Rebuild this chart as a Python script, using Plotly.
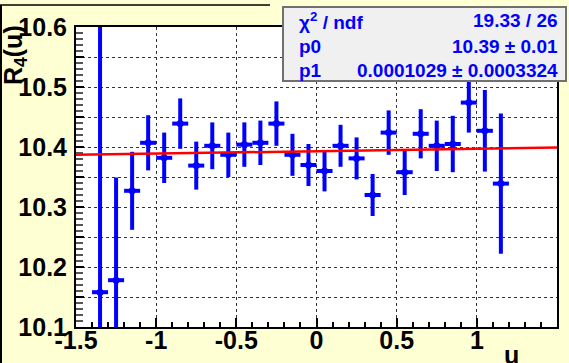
import plotly.graph_objects as go

# ---- data ----
u_vals = [-1.35, -1.25, -1.15, -1.05, -0.95, -0.85, -0.75, -0.65, -0.55, -0.45,
          -0.35, -0.25, -0.15, -0.05, 0.05, 0.15, 0.25, 0.35, 0.45, 0.55,
          0.65, 0.75, 0.85, 0.95, 1.05, 1.15]
r4_vals = [10.158, 10.178, 10.327, 10.407, 10.382, 10.439, 10.369, 10.402, 10.387, 10.404,
           10.407, 10.439, 10.387, 10.370, 10.360, 10.402, 10.381, 10.320, 10.424, 10.358,
           10.422, 10.402, 10.405, 10.474, 10.427, 10.339]
r4_errs = [0.50, 0.171, 0.065, 0.046, 0.042, 0.042, 0.040, 0.039, 0.037, 0.037,
           0.037, 0.037, 0.035, 0.035, 0.034, 0.035, 0.035, 0.035, 0.037, 0.038,
           0.041, 0.042, 0.047, 0.050, 0.068, 0.117]
u_halfwidth = [0.05] * len(u_vals)

fit_u = [-1.5, 1.5]
fit_r4 = [10.387, 10.399]

x_tickvals = [-1.5, -1.0, -0.5, 0.0, 0.5, 1.0, 1.5]
x_ticktext = ["-1.5", "-1", "-0.5", "0", "0.5", "1", "1.5"]
y_tickvals = [10.1, 10.15, 10.2, 10.25, 10.3, 10.35, 10.4, 10.45, 10.5, 10.55, 10.6]
y_ticktext = ["10.1", "", "10.2", "", "10.3", "", "10.4", "", "10.5", "", "10.6"]

stats_labels = ["χ<sup>2</sup> / ndf", "p0", "p1"]
stats_values = ["19.33 / 26", "10.39 ± 0.01", "0.0001029 ± 0.0003324"]

# ---- geometry (pixels) ----
W, H = 569, 363
L, R, T, B = 76, 12, 27, 36
PW, PH = W - L - R, H - T - B


def px(x):
    return (x - L) / PW


def py(y):
    return (H - B - y) / PH


BLUE = "#0000ff"
FONT = "Liberation Sans"
bg = "#ffffd4"

fig = go.Figure()

fig.add_trace(go.Scatter(
    x=u_vals, y=r4_vals, mode="markers",
    marker=dict(color=BLUE, size=7),
    error_y=dict(type="data", array=r4_errs, color=BLUE, thickness=4, width=0),
    error_x=dict(type="data", array=u_halfwidth, color=BLUE, thickness=4, width=0),
    showlegend=False, cliponaxis=True,
))

fig.add_trace(go.Scatter(
    x=fit_u, y=fit_r4, mode="lines",
    line=dict(color="#ff0000", width=2.5),
    showlegend=False,
))

fig.update_layout(
    width=W, height=H,
    margin=dict(l=L, r=R, t=T, b=B, pad=0, autoexpand=False),
    paper_bgcolor=bg, plot_bgcolor="white",
    font=dict(family=FONT, color="black"),
    xaxis=dict(
        range=[-1.5, 1.5], tickmode="array", tickvals=x_tickvals, ticktext=x_ticktext,
        ticks="inside", ticklen=9, tickwidth=1.5, tickcolor="black",
        showline=True, linecolor="black", linewidth=2, mirror=True,
        showgrid=True, gridcolor="#333333", griddash="dot", gridwidth=1,
        zeroline=False, automargin=False, ticklabelstandoff=-10,
        tickfont=dict(family=FONT, size=25, weight="bold", color="black"),
        minor=dict(dtick=0.1, tick0=-1.5, ticks="inside", ticklen=5, tickcolor="black", showgrid=False),
    ),
    yaxis=dict(
        range=[10.1, 10.6], tickmode="array", tickvals=y_tickvals, ticktext=y_ticktext,
        ticks="inside", ticklen=8, tickwidth=1.5, tickcolor="black",
        showline=True, linecolor="black", linewidth=2, mirror=True,
        showgrid=True, gridcolor="#333333", griddash="dot", gridwidth=1,
        zeroline=False, ticklabelstandoff=2, automargin=False,
        tickfont=dict(family=FONT, size=25, weight="bold", color="black"),
        minor=dict(dtick=0.01, tick0=10.1, ticks="inside", ticklen=7, tickcolor="#555555", showgrid=False),
    ),
)

# canvas border lines
fig.add_shape(type="line", xref="paper", yref="paper", x0=px(1), x1=px(1), y0=py(5), y1=py(H),
              line=dict(color="black", width=2))
fig.add_shape(type="line", xref="paper", yref="paper", x0=px(0), x1=px(270), y0=py(5), y1=py(5),
              line=dict(color="black", width=1.5))

# axis titles
fig.add_annotation(text="R<sub>4</sub>(u)", xref="paper", yref="paper", x=px(15), y=py(55),
                   textangle=-90, showarrow=False, xanchor="center", yanchor="middle",
                   font=dict(family=FONT, size=25, weight="bold", color="black"))
fig.add_annotation(text="u", xref="paper", yref="paper", x=px(511), y=py(339),
                   showarrow=False, xanchor="center", yanchor="top",
                   font=dict(family=FONT, size=25, weight="bold", color="black"))

# stats box
fig.add_shape(type="rect", xref="paper", yref="paper", x0=px(283), x1=px(566), y0=py(81), y1=py(7),
              fillcolor="#f0f0f0", line=dict(color="#707070", width=2), layer="above")
row_y = [21, 46, 70]
for lab, val, ry in zip(stats_labels, stats_values, row_y):
    fig.add_annotation(text=lab, xref="paper", yref="paper", x=px(297), y=py(ry),
                       showarrow=False, xanchor="left", yanchor="middle",
                       font=dict(family=FONT, size=19, weight="bold", color=BLUE))
    fig.add_annotation(text=val, xref="paper", yref="paper", x=px(560), y=py(ry),
                       showarrow=False, xanchor="right", yanchor="middle",
                       font=dict(family=FONT, size=19, weight="bold", color=BLUE))

fig.write_html("out.html")
